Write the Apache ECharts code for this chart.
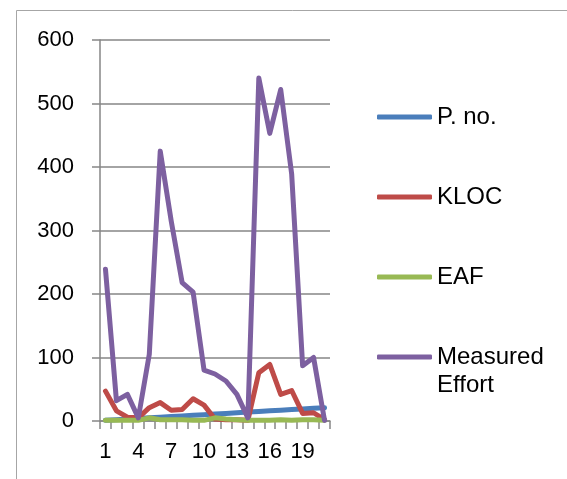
<!DOCTYPE html>
<html>
<head>
<meta charset="utf-8">
<script src="https://cdn.jsdelivr.net/npm/echarts@6/dist/echarts.min.js"></script>
<style>
html,body{margin:0;padding:0;background:#fff;}
#chart{width:567px;height:479px;}
</style>
</head>
<body>
<div id="chart"></div>
<script>
const categories = ['1','2','3','4','5','6','7','8','9','10','11','12','13','14','15','16','17','18','19','20','21'];
const pNo = [1,2,3,4,5,6,7,8,9,10,11,12,13,14,15,16,17,18,19,20,21];
const kloc = [47,16,6,5,21,29,17,18,35,25,3,2,2,1,76,89,42,48,12,13,2];
const eaf = [1,1,1,1,5,2,2,2,1,1,5,3,2,1,1,1,2,1,2,2,1];
const measuredEffort = [239,32,42,5,105,425,315,218,203,80,74,63,42,5,540,453,522,389,87,100,1];
const yTicks = [0,100,200,300,400,500,600];

const colors = ['#4A7EBB','#BE4B48','#98B954','#7D60A0'];
const names = ['P. no.','KLOC','EAF','Measured Effort'];
const datas = [pNo, kloc, eaf, measuredEffort];

const chart = echarts.init(document.getElementById('chart'), null, {renderer:'canvas'});
const font = 'Liberation Sans, Arial, sans-serif';
chart.setOption({
  animation:false,
  backgroundColor:'#fff',
  color: colors,
  grid:{left:100, right:237, top:40, bottom:58, containLabel:false},
  legend:{
    orient:'vertical', left:372, top:100,
    itemWidth:55, itemHeight:5, itemGap:56,
    icon:'roundRect',
    textStyle:{fontFamily:font, fontSize:24, color:'#000', lineHeight:24, width:130, overflow:'none'},
    formatter: n => n === 'Measured Effort' ? 'Measured' : n,
    data: names
  },
  xAxis:{
    type:'category', data:categories, boundaryGap:true,
    axisLine:{lineStyle:{color:'#868686', width:1.5}},
    axisTick:{show:true, length:8, interval:0, lineStyle:{color:'#868686', width:1.5}},
    axisLabel:{interval:2, fontFamily:font, fontSize:22, color:'#000', margin:20},
    splitLine:{show:false}
  },
  yAxis:{
    type:'value', min:0, max:600, interval:100,
    axisLine:{show:true, lineStyle:{color:'#868686', width:1.5}},
    axisTick:{show:true, length:8, lineStyle:{color:'#868686', width:1.5}},
    axisLabel:{fontFamily:font, fontSize:22, color:'#000', margin:26,
      formatter: v => yTicks.includes(v) ? String(v) : ''},
    splitLine:{show:true, lineStyle:{color:'#868686', width:1.5}}
  },
  graphic:[
    {type:'rect', shape:{x:16.5, y:10.5, width:700, height:600}, style:{fill:'none', stroke:'#a6a6a6', lineWidth:1}, z:-1},
    {type:'text', left:437, top:373, style:{text:'Effort', font:'24px ' + font, fill:'#000'}}
  ],
  series: names.map((n,i)=>({
    name:n, type:'line', data:datas[i], symbol:'none', showSymbol:false,
    lineStyle:{width:5, color:colors[i], cap:'round', join:'round'},
    z: 2+i
  }))
});
</script>
</body>
</html>
